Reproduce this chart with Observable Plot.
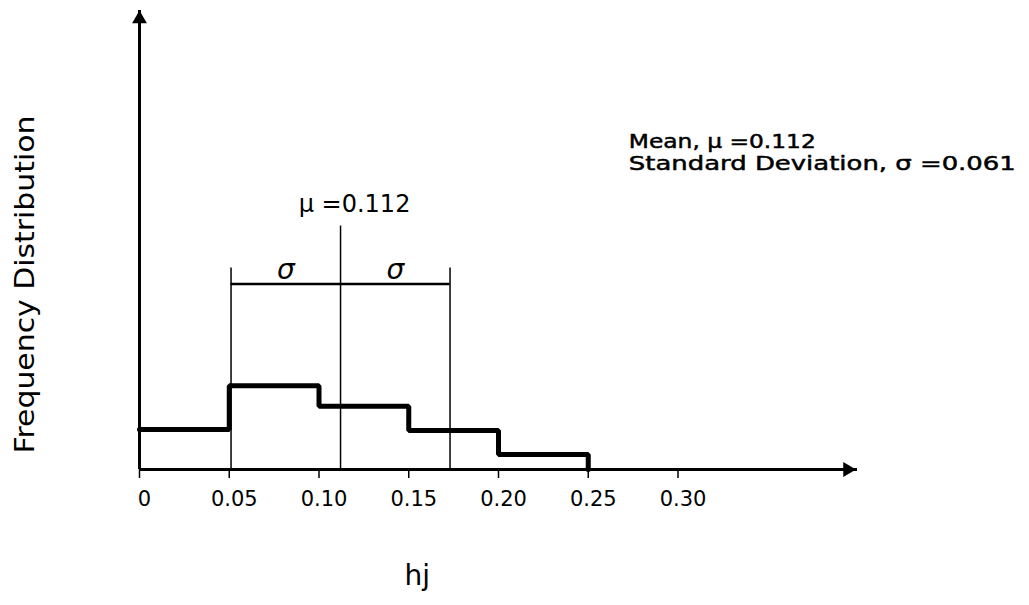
<!DOCTYPE html>
<html>
<head>
<meta charset="utf-8">
<script src="https://cdn.jsdelivr.net/npm/d3@7"></script>
<script src="https://cdn.jsdelivr.net/npm/@observablehq/plot@0.6"></script>
<style>
  html, body { margin: 0; padding: 0; background: #fff; }
</style>
</head>
<body>
<div id="chart"></div>
<script>
// ---- data ----
const binEdges = [0, 0.05, 0.10, 0.15, 0.20, 0.25];
const frequency = [4.0, 8.4, 6.35, 3.9, 1.5];
const tickValues = [0, 0.05, 0.10, 0.15, 0.20, 0.25, 0.30];
const tickLabels = ["0", "0.05", "0.10", "0.15", "0.20", "0.25", "0.30"];
const mu = 0.112;
const sigma = 0.061;
const muLabel = "μ =0.112";
const sigmaLabel = "σ";
const legendLines = ["Mean, μ =0.112", "Standard Deviation, σ =0.061"];
const xTitle = "hj";
const yTitle = "Frequency Distribution";
const xMax = 0.40;
const yMax = 46;
const muLineTop = 24.4;
const sigmaLineTop = 20.2;
const sigmaBarY = 18.6;

// ---- derived tables ----
const steps = binEdges.slice(0, -1).map((x, i) => ({x, y: frequency[i]}));
const last = binEdges[binEdges.length - 1];
steps.push({x: last, y: frequency[frequency.length - 1]});
steps.push({x: last, y: 0});

const font = "DejaVu Sans, sans-serif";

const svg = Plot.plot({
  width: 1029,
  height: 605,
  marginTop: 10,
  marginBottom: 136,
  marginLeft: 139,
  marginRight: 172,
  style: {fontFamily: font, fontSize: "21px", background: "#fff", color: "#000"},
  x: {domain: [0, xMax], axis: null, label: null},
  y: {domain: [0, yMax], axis: null, label: null},
  marks: [
    // axes lines
    Plot.ruleY([0], {stroke: "#000", strokeWidth: 3}),
    Plot.ruleX([0], {stroke: "#000", strokeWidth: 3}),
    Plot.dot([{x: xMax, y: 0}], {x: "x", y: "y", symbol: "triangle", r: 5.5, fill: "#000", stroke: null, rotate: 90, dx: -10}),
    Plot.dot([{x: 0, y: yMax}], {x: "x", y: "y", symbol: "triangle", r: 5.5, fill: "#000", stroke: null, dy: 8.5}),
    // ticks and tick labels
    Plot.axisX({ticks: tickValues, tickSize: 9, strokeWidth: 1.5, tickFormat: () => "", label: null}),
    Plot.axisX({ticks: tickValues, tickSize: 0, tickPadding: 22, dx: 5, label: null,
      tickFormat: (d) => tickLabels[tickValues.indexOf(d)], fontSize: 21}),
    // mean / sigma guides
    Plot.ruleX([
      {x: mu - sigma, top: sigmaLineTop, bottom: 0},
      {x: mu, top: muLineTop, bottom: 0},
      {x: mu + sigma, top: sigmaLineTop, bottom: 0}
    ], {x: "x", y1: "bottom", y2: "top", stroke: "#000", strokeWidth: 1.5}),
    Plot.ruleY([{y: sigmaBarY, a: mu - sigma, b: mu + sigma}], {y: "y", x1: "a", x2: "b", stroke: "#000", strokeWidth: 2.5}),
    // histogram step outline
    Plot.line(steps, {x: "x", y: "y", curve: "step-after", stroke: "#000", strokeWidth: 5, strokeLinejoin: "miter"}),
    // annotations
    Plot.text([{x: mu, y: 26.56, t: muLabel}], {x: "x", y: "y", text: "t", dx: 14, fontSize: 24, fill: "#000"}),
    Plot.text([
      {x: (mu - sigma + mu) / 2, y: 20.0, t: sigmaLabel},
      {x: (mu + mu + sigma) / 2, y: 20.0, t: sigmaLabel}
    ], {x: "x", y: "y", text: "t", fontSize: 28, fontStyle: "italic", fill: "#000"}),
    Plot.text([
      {x: 0.2726, y: 32.88, t: legendLines[0]},
      {x: 0.2726, y: 30.68, t: legendLines[1]}
    ], {x: "x", y: "y", text: "t", textAnchor: "start", fontSize: 20, fill: "#000", stroke: "#000", strokeWidth: 0.5}),
    Plot.text([{x: 0.1547, t: xTitle}], {x: "x", text: "t", frameAnchor: "bottom", dy: 115, fontSize: 28, fill: "#000"}),
    Plot.text([{y: 1.6, t: yTitle}], {y: "y", text: "t", frameAnchor: "left", textAnchor: "start", dx: -114.6, rotate: -90, fontSize: 27, fill: "#000"})
  ]
});

// stretch the wide scanned lettering to its measured lengths
const lengths = {};
lengths[legendLines[0]] = 187;
lengths[legendLines[1]] = 387;
lengths[yTitle] = 338;
d3.select(svg).selectAll("text").each(function () {
  const t = this.textContent;
  if (lengths[t]) {
    this.setAttribute("textLength", lengths[t]);
    this.setAttribute("lengthAdjust", "spacingAndGlyphs");
  }
});

document.getElementById("chart").appendChild(svg);
</script>
</body>
</html>
